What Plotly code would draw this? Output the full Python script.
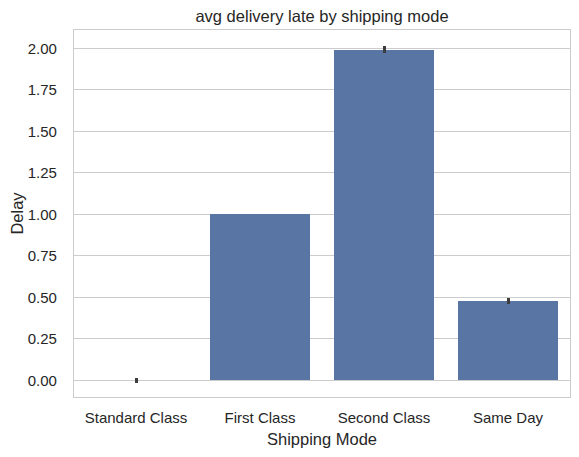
import plotly.graph_objects as go

categories = ["Standard Class", "First Class", "Second Class", "Same Day"]
mean_delay = [0.0, 1.0, 1.99, 0.478]
err_plus = [0.017, 0.0, 0.022, 0.018]
err_minus = [0.017, 0.0, 0.018, 0.016]

title_text = "avg delivery late by shipping mode"
x_label = "Shipping Mode"
y_label = "Delay"
y_ticks = [0, 0.25, 0.5, 0.75, 1.0, 1.25, 1.5, 1.75, 2.0]

font_family = "Liberation Sans, Arial, sans-serif"
text_color = "#262626"

# the page body has an 8px default margin; size the figure so it fills the window
W, H = 571, 449
ML, MR, MT, MB = 66, 9, 22, 60

fig = go.Figure(
    go.Bar(
        x=list(range(len(categories))),
        y=mean_delay,
        width=0.8,
        marker=dict(color="#5975a4", line=dict(width=0)),
        error_y=dict(
            type="data",
            symmetric=False,
            array=err_plus,
            arrayminus=err_minus,
            color="#3d3d3d",
            thickness=3,
            width=0,
        ),
        showlegend=False,
    )
)

fig.update_layout(
    width=W,
    height=H,
    margin=dict(l=ML, r=MR, t=MT, b=MB),
    paper_bgcolor="white",
    plot_bgcolor="white",
    font=dict(family=font_family, color=text_color, size=15),
    title=dict(
        text=title_text,
        x=(ML + (W - MR)) / 2 / W,
        xanchor="center",
        y=1 - 8.5 / H,
        yanchor="middle",
        font=dict(size=16.5, color=text_color),
    ),
    bargap=0,
)

fig.update_xaxes(
    range=[-0.5, 3.5],
    tickmode="array",
    tickvals=list(range(len(categories))),
    ticktext=categories,
    showgrid=False,
    zeroline=False,
    showline=True,
    mirror=True,
    linecolor="#cccccc",
    linewidth=1.3,
    ticks="",
    ticklabelstandoff=7,
    automargin=False,
    title=dict(text=x_label, font=dict(size=16.5), standoff=8),
    tickfont=dict(size=15),
)

fig.update_yaxes(
    range=[-0.1, 2.11],
    tickmode="array",
    tickvals=y_ticks,
    ticktext=[f"{v:.2f}" for v in y_ticks],
    showgrid=True,
    gridcolor="#cccccc",
    gridwidth=1,
    zeroline=False,
    showline=True,
    mirror=True,
    linecolor="#cccccc",
    linewidth=1.3,
    ticks="",
    ticklabelstandoff=13,
    automargin=False,
    title=dict(text=y_label, font=dict(size=16.5), standoff=6),
    tickfont=dict(size=15),
)

fig.write_html("out.html")
